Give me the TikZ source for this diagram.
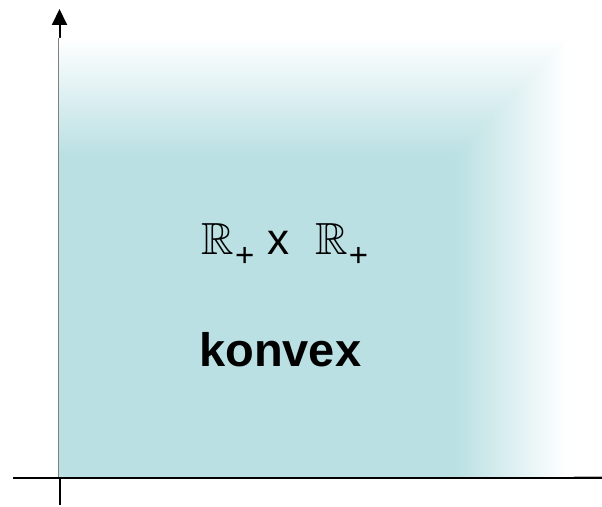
\documentclass[tikz,border=0pt]{standalone}
\usepackage{amsmath,amssymb}
\usepackage{fontspec}
\setmainfont{Liberation Sans}
\usepackage{tikz}
\usetikzlibrary{arrows.meta}
\definecolor{conefill}{RGB}{186,224,227}
\newcommand{\rplus}{\raisebox{-12pt}{\fontsize{33}{40}\selectfont +}}

\begin{document}
\begin{tikzpicture}[
          x=1pt, y=1pt,
          every node/.style={inner sep=0pt, anchor=base west},
          axis/.style={draw=black, line width=1.3pt},
          lbl/.style={font=\fontsize{45}{54}\selectfont}
      ]
        \useasboundingbox (0,0) rectangle (602,506);
        \coordinate (ytop) at (59.5,497);
        \coordinate (ybot) at (59.5,1);
        \coordinate (xl) at (13,28);
        \coordinate (xr) at (602,28);
        \draw[axis, line width=2pt, -{Triangle[length=16pt,width=15pt]}] (ybot) -- (ytop);

        \fill[conefill] (58.5,29) rectangle (456,352);
        \shade[top color=white, bottom color=conefill] (58.5,468) -- (567,468) -- (455,351) -- (58.5,351) -- cycle;
        \shade[left color=conefill, right color=white] (455,351) -- (567,468) -- (567,29) -- (455,29) -- cycle;
        \draw[gray, line width=1pt] (58.5,29) -- (58.5,468);
        \draw[axis] (xl) -- (xr);
        \draw[gray!60, line width=1pt] (574,30) -- (602,30);

        \node[lbl] (prod) at (201,251.5) {$\mathbb{R}$\hspace{1.5pt}\rplus\hspace{12.8pt}{\fontsize{44}{54}\selectfont x}\hspace{26.5pt}$\mathbb{R}$\hspace{0.5pt}\rplus};
        \node[lbl, font=\fontsize{47}{56}\selectfont\bfseries] (konvex) at (199,139) {konvex};
      \end{tikzpicture}
\end{document}
